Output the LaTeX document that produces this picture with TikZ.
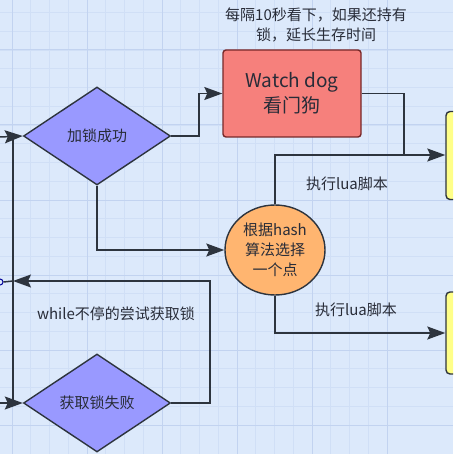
\documentclass[tikz,border=0pt]{standalone}
\usepackage{fontspec}
\usepackage{tikz}
\usepackage{xcolor}
\usetikzlibrary{shapes.geometric,arrows.meta}
\newfontfamily\cjk{Noto Sans CJK SC}
\definecolor{bgblue}{RGB}{220,233,251}
\definecolor{gridminor}{RGB}{208,223,246}
\definecolor{gridmajor}{RGB}{194,211,240}
\definecolor{lineclr}{RGB}{45,52,62}
\definecolor{purplefill}{RGB}{153,153,255}
\definecolor{redfill}{RGB}{246,128,124}
\definecolor{redline}{RGB}{120,40,40}
\definecolor{orangefill}{RGB}{255,181,112}
\definecolor{yellowfill}{RGB}{255,255,136}
\definecolor{txtclr}{RGB}{40,44,56}

\begin{document}
\begin{tikzpicture}[x=1pt, y=-1pt, every node/.style={font=\cjk\fontsize{15}{20}\selectfont, text=txtclr}]
            % Define styles
            \tikzstyle{decision} = [diamond, aspect=1.5, inner sep=0pt, minimum width=147pt, minimum height=98pt, draw=lineclr, line width=1.4pt, fill=purplefill]
            \tikzstyle{dogbox} = [rectangle, rounded corners=3pt, minimum width=138pt, minimum height=87pt, draw=redline, line width=1.4pt, fill=redfill, align=center, font=\cjk\fontsize{19}{25}\selectfont]
            \tikzstyle{hashnode} = [ellipse, inner sep=0pt, minimum width=100pt, minimum height=90pt, draw=lineclr, line width=1.4pt, fill=orangefill, align=center]
            \tikzstyle{redisbox} = [rectangle, rounded corners=4pt, minimum width=60pt, draw=lineclr, line width=1.4pt, fill=yellowfill]
            \tikzstyle{line} = [draw=lineclr, line width=1.5pt]
            \tikzstyle{arrow} = [line, -{Stealth[length=18pt, width=13pt, inset=3pt]}]

            % Background and grid
            \useasboundingbox (0,0) rectangle (453,454);
            \clip (0,0) rectangle (453,454);
            \fill[bgblue] (0,0) rectangle (453,454);
            \foreach \k in {0,...,24} {
                \draw[gridminor, line width=0.8pt] (12+\k*18.75-75,0) -- ++(0,454);
                \draw[gridminor, line width=0.8pt] (0,50+\k*18.75-75) -- ++(453,0);
            }
            \foreach \k in {0,...,6} {
                \draw[gridmajor, line width=1pt] (12+\k*75,0) -- ++(0,454);
                \draw[gridmajor, line width=1pt] (0,50+\k*75-75) -- ++(453,0);
            }

            % Nodes
            \node (lockok) [decision] at (97,136) {加锁成功};
            \node (lockfail) [decision] at (97,403) {获取锁失败};
            \node (watchdog) [dogbox] at (292,93.5) {Watch dog\\看门狗};
            \node (note) [align=center] at (316,25) {每隔10秒看下，如果还持有\\锁，延长生存时间};
            \node (hash) [hashnode] at (275,250) {根据hash\\算法选择\\一个点};
            \node (redisa) [redisbox, minimum height=88pt] at (476,155.5) {};
            \node (redisb) [redisbox, minimum height=82pt] at (476,333) {};

            % Coordinates on the left edge
            \coordinate (ina) at (0,137);
            \coordinate (inb) at (0,403);
            \coordinate (spinetop) at (13,137);
            \coordinate (spinebot) at (13,403);
            \coordinate (spineloop) at (13,281);
            \node (port) [circle, draw=blue!60!black, line width=1pt, inner sep=0pt, minimum size=6pt] at (0,282) {};
            \coordinate (merge) at (404,155);

            % Arrows
            \draw [arrow] (ina) -- (lockok.west);
            \draw [arrow] (inb) -- (lockfail.west);
            \draw [line] (spinetop) -- (spinebot);
            \draw [line] (port.east) -- (spineloop);
            \draw [arrow] (lockok.east) -- ++(28,0) |- (watchdog.west);
            \draw [line] (watchdog.east) -| (merge);
            \draw [arrow] (hash.north) |- (redisa.west |- merge);
            \draw [arrow] (hash.south) |- (redisb.west);
            \draw [arrow] (lockok.south) |- (hash.west);
            \draw [arrow] (lockfail.east) -- ++(39,0) |- (spineloop);

            % Labels
            \node (luaa) at (347,184) {执行lua脚本};
            \node (luab) at (356,310) {执行lua脚本};
            \node (retry) at (116,314) {while不停的尝试获取锁};
        \end{tikzpicture}
\end{document}
